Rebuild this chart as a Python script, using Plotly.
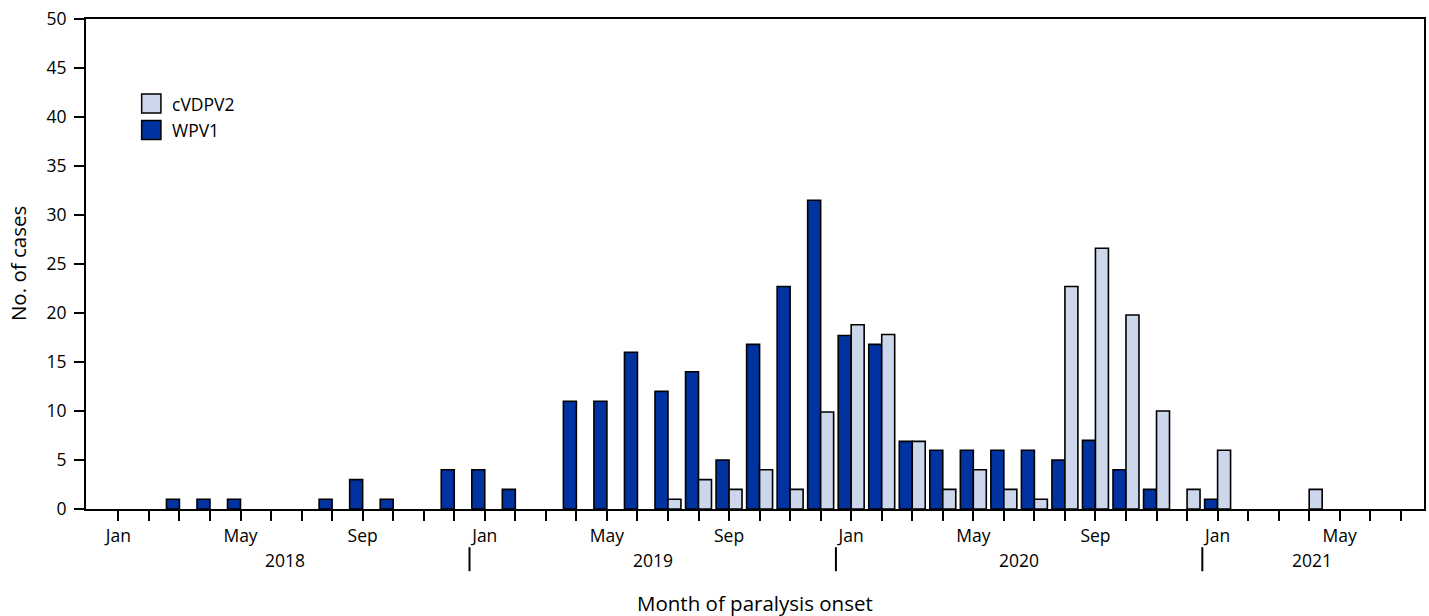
import plotly.graph_objects as go

# Months Jan 2018 .. Jul 2021 (index 0 = Jan 2018)
month_names = ["Jan", "Feb", "Mar", "Apr", "May", "Jun", "Jul", "Aug", "Sep", "Oct", "Nov", "Dec"]
years = [2018, 2019, 2020, 2021]
n_months = 43

wpv1 = [0, 0, 1, 1, 1, 0, 0, 1, 3, 1, 0, 4,
        4, 2, 0, 11, 11, 16, 12, 14, 5, 16.8, 22.7, 31.5,
        17.7, 16.8, 6.9, 6, 6, 6, 6, 5, 7, 4, 2, 0,
        1, 0, 0, 0, 0, 0, 0]
cvdpv2 = [0, 0, 0, 0, 0, 0, 0, 0, 0, 0, 0, 0,
          0, 0, 0, 0, 0, 0, 1, 3, 2, 4, 2, 9.9,
          18.8, 17.8, 6.9, 2, 4, 2, 1, 22.7, 26.6, 19.8, 10, 2,
          6, 0, 0, 2, 0, 0, 0]

shown_months = {"Jan", "May", "Sep"}
tick_text = [month_names[i % 12] if month_names[i % 12] in shown_months else "" for i in range(n_months)]

WPV1_COLOR = "#0033a0"
CVDPV2_COLOR = "#cdd7ec"
FONT = "Open Sans"
TICK_SIZE = 17.5
TITLE_SIZE = 20.5

x = list(range(n_months))
nz = lambda arr: [v if v else None for v in arr]

fig = go.Figure()
fig.add_trace(go.Bar(x=x, y=nz(wpv1), name="WPV1",
                     marker=dict(color=WPV1_COLOR, line=dict(color="black", width=1.6))))
fig.add_trace(go.Bar(x=x, y=nz(cvdpv2), name="cVDPV2",
                     marker=dict(color=CVDPV2_COLOR, line=dict(color="black", width=1.6))))

fig.update_layout(
    width=1429, height=616,
    margin=dict(l=86, r=3, t=19, b=107),
    barmode="group", bargap=0.15, bargroupgap=0,
    showlegend=False,
    plot_bgcolor="white", paper_bgcolor="white",
    font=dict(family=FONT, size=TICK_SIZE, color="black"),
)
fig.update_xaxes(
    range=[-1.06, 42.76], tickmode="array", tickvals=x, ticktext=tick_text,
    ticks="outside", ticklen=10, tickwidth=2, tickcolor="black",
    showline=True, linecolor="black", linewidth=2, mirror=True,
    showgrid=False, zeroline=False, tickfont=dict(size=TICK_SIZE),
)
fig.update_yaxes(
    range=[0, 50], dtick=5, tick0=0,
    ticks="outside", ticklen=10, tickwidth=2, tickcolor="black",
    showline=True, linecolor="black", linewidth=2, mirror=True,
    showgrid=False, zeroline=False, tickfont=dict(size=TICK_SIZE),
    ticklabelstandoff=4,
)

# year labels and separators
year_centers = [5.45, 17.5, 29.5, 39.1]
for yr, c in zip(years, year_centers):
    fig.add_annotation(x=c, y=-0.104, xref="x", yref="paper", text=str(yr),
                       showarrow=False, xanchor="center", yanchor="middle", font=dict(size=TICK_SIZE))
for sep in [11.5, 23.5, 35.5]:
    fig.add_shape(type="line", xref="x", yref="paper", x0=sep, x1=sep, y0=-0.078, y1=-0.127,
                  line=dict(color="black", width=2))

# axis titles
fig.add_annotation(x=0.5, y=-0.191, xref="paper", yref="paper", text="Month of paralysis onset",
                   showarrow=False, xanchor="center", yanchor="middle", font=dict(size=TITLE_SIZE))
fig.add_annotation(x=(18 - 86) / 1340, y=0.5, xref="paper", yref="paper", text="No. of cases",
                   showarrow=False, xanchor="center", yanchor="middle", textangle=-90,
                   font=dict(size=TITLE_SIZE))

# legend (drawn manually to match box size)
legend_items = [("cVDPV2", CVDPV2_COLOR), ("WPV1", WPV1_COLOR)]
for i, (name, col) in enumerate(legend_items):
    top = 0.847 - i * 0.054
    fig.add_shape(type="rect", xref="paper", yref="paper", x0=0.0416, x1=0.056, y0=top - 0.039, y1=top,
                  fillcolor=col, line=dict(color="black", width=1.5))
    fig.add_annotation(x=0.0627, y=top - 0.0195, xref="paper", yref="paper", text=name,
                       showarrow=False, xanchor="left", yanchor="middle", font=dict(size=TICK_SIZE))

fig.write_html("out.html", config={"displayModeBar": False},
               post_script="document.body.style.margin='0';")
